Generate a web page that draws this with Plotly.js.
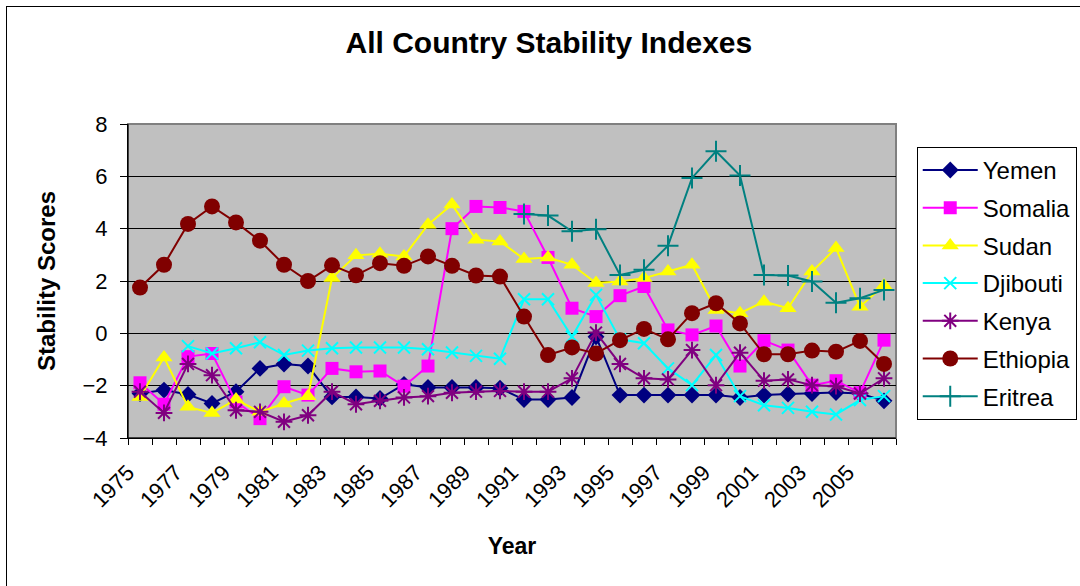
<!DOCTYPE html>
<html>
<head>
<meta charset="utf-8">
<script src="https://cdn.plot.ly/plotly-3.0.1.min.js"></script>
<style>
html,body{margin:0;padding:0;background:#fff;overflow:hidden;}
#chart{width:1080px;height:586px;position:absolute;left:0;top:0;}
#frame{position:absolute;left:6px;top:6px;width:1100px;height:620px;border:1.5px solid #000;pointer-events:none;}
</style>
</head>
<body>
<div id="chart"></div>
<div id="frame"></div>
<script>
const years = [1975,1976,1977,1978,1979,1980,1981,1982,1983,1984,1985,1986,1987,1988,1989,1990,
               1991,1992,1993,1994,1995,1996,1997,1998,1999,2000,2001,2002,2003,2004,2005,2006];
const tickYears = [1975,1977,1979,1981,1983,1985,1987,1989,1991,1993,1995,1997,1999,2001,2003,2005];

const yemen = [-2.30,-2.17,-2.34,-2.68,-2.23,-1.34,-1.17,-1.25,-2.43,-2.43,-2.49,-1.95,-2.07,-2.07,-2.07,-2.10,
               -2.53,-2.53,-2.45,-0.13,-2.36,-2.36,-2.36,-2.36,-2.36,-2.45,-2.36,-2.32,-2.30,-2.26,-2.30,-2.58];
const somalia = [-1.89,-2.71,-0.89,-0.77,-2.62,-3.26,-2.04,-2.36,-1.34,-1.47,-1.44,-2.02,-1.25,4.00,4.85,4.81,
                 4.66,2.90,0.96,0.64,1.44,1.79,0.13,-0.06,0.28,-1.25,-0.28,-0.64,-1.98,-1.81,-2.27,-0.26];
const sudan = [-2.43,-0.92,-2.81,-3.04,-2.53,-3.00,-2.68,-2.40,2.11,2.98,3.04,2.94,4.15,4.92,3.58,3.51,
               2.84,2.90,2.62,1.92,1.98,2.11,2.36,2.62,0.89,0.77,1.21,0.96,2.36,3.26,1.02,1.83];
const djibouti = [null,null,-0.49,-0.77,-0.57,-0.34,-0.83,-0.66,-0.57,-0.54,-0.54,-0.54,-0.61,-0.73,-0.86,-0.97,
                  1.30,1.30,-0.13,1.47,-0.23,-0.38,-1.34,-1.98,-0.83,-2.40,-2.75,-2.85,-3.00,-3.10,-2.55,-2.40];
const kenya = [-2.23,-3.04,-1.17,-1.60,-2.94,-3.00,-3.38,-3.13,-2.23,-2.71,-2.58,-2.45,-2.40,-2.27,-2.23,-2.20,
               -2.23,-2.23,-1.72,0.03,-1.17,-1.72,-1.76,-0.64,-1.98,-0.74,-1.81,-1.76,-1.98,-2.02,-2.30,-1.72];
const ethiopia = [1.75,2.62,4.18,4.85,4.24,3.54,2.62,2.00,2.60,2.22,2.68,2.58,2.94,2.58,2.21,2.17,
                  0.64,-0.83,-0.54,-0.77,-0.26,0.17,-0.23,0.77,1.15,0.38,-0.80,-0.80,-0.66,-0.70,-0.29,-1.17];
const eritrea = [null,null,null,null,null,null,null,null,null,null,null,null,null,null,null,null,
                 4.56,4.50,3.90,3.98,2.23,2.43,3.35,5.94,6.96,6.03,2.23,2.21,1.98,1.17,1.34,1.66];

const seriesNames = ['Yemen','Somalia','Sudan','Djibouti','Kenya','Ethiopia','Eritrea'];
const seriesData = [yemen, somalia, sudan, djibouti, kenya, ethiopia, eritrea];
const colors = ['#000080','#FF00FF','#FFFF00','#00FFFF','#800080','#800000','#008080'];
const symbols = ['diamond','square','triangle-up','x-thin-open','asterisk-open','circle','cross-thin-open'];
const sizes = [13,13,15,12,14,16,15];

const FONT = 'Liberation Sans, Arial, sans-serif';

const traces = seriesNames.map((n,i)=>({
  type:'scatter', mode:'lines+markers', name:n, x:years, y:seriesData[i],
  legendgroup:'g'+i,
  line:{color:colors[i], width:2},
  marker:{symbol:symbols[i], size:sizes[i], color:colors[i], line:{color:colors[i], width: symbols[i].includes('open')?2:0}},
  connectgaps:false
}));

const minorVals = years.map(y=>y-0.5).concat([years[years.length-1]+0.5]);

const layout = {
  width:1080, height:586,
  paper_bgcolor:'#ffffff', plot_bgcolor:'#C0C0C0',
  margin:{l:128, r:184, t:124, b:148, autoexpand:false},
  font:{family:FONT, color:'#000'},
  title:{text:'<b>All Country Stability Indexes</b>', x:0.548, xref:'paper', xanchor:'center', y:0.927, yanchor:'middle', yref:'container',
         font:{size:30, family:FONT, color:'#000'}},
  xaxis:{range:[years[0]-0.5, years[years.length-1]+0.5], tickmode:'array', tickvals:tickYears, ticktext:tickYears.map(String),
         tickangle:-45, ticks:'', tickfont:{size:22}, showgrid:false, zeroline:false,
         showline:true, linecolor:'#000', linewidth:1, automargin:false,
         ticklabelshift:-12, ticklabelstandoff:12,
         minor:{tickmode:'array', tickvals:minorVals, ticks:'outside', ticklen:6, tickcolor:'#000', tickwidth:1, showgrid:false},
         title:{text:'<b>Year</b>', font:{size:23}, standoff:26}},
  yaxis:{range:[-4,8], dtick:2, tick0:-4, ticks:'outside', ticklen:7, tickcolor:'#000', tickwidth:1,
         tickfont:{size:22}, showgrid:true, gridcolor:'#000', gridwidth:1, zeroline:false, automargin:false,
         showline:true, linecolor:'#000', linewidth:1, ticklabelstandoff:8,
         title:{text:'<b>Stability Scores</b>', font:{size:24}, standoff:20}},
  legend:{x:1.027, xanchor:'left', y:0.927, yanchor:'top', bgcolor:'#fff', bordercolor:'#000', borderwidth:1,
          font:{size:24, family:FONT}, itemwidth:55, tracegroupgap:3.5, traceorder:'grouped'},
  shapes:[{type:'rect', xref:'paper', yref:'paper', x0:0, x1:1, y0:0, y1:1, line:{color:'#808080', width:2}, layer:'below'},
          {type:'line', xref:'paper', yref:'paper', x0:0, x1:0, y0:0, y1:1, line:{color:'#000', width:1}},
          {type:'line', xref:'paper', yref:'paper', x0:0, x1:1, y0:0, y1:0, line:{color:'#000', width:1}}],
  showlegend:true
};

Plotly.newPlot('chart', traces, layout, {displayModeBar:false, staticPlot:true});
</script>
</body>
</html>
